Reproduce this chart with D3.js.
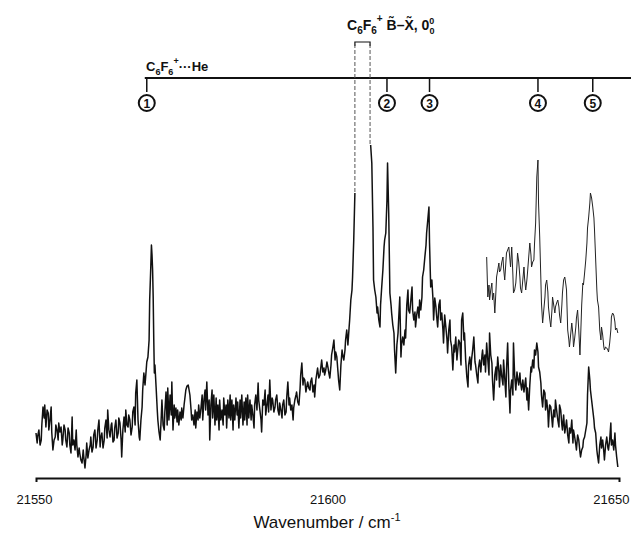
<!DOCTYPE html>
<html>
<head>
<meta charset="utf-8">
<script src="https://cdn.jsdelivr.net/npm/d3@7/dist/d3.min.js"></script>
<style>
  body { margin: 0; background: #fff; }
  svg text { font-family: "Liberation Sans", Arial, sans-serif; fill: #111; }
</style>
</head>
<body>
<div id="chart"></div>
<script>
// spectrum: [wavenumber / cm-1, intensity (arb. units)]
// the C6F6+ origin doublet is off scale, so the trace has a gap there
var mainTrace = [
  [21550.0,45],[21550.2,35],[21550.3,42],[21550.5,48],[21550.7,33],[21550.9,38],[21551.0,53],[21551.2,71],[21551.4,60],[21551.5,73],
  [21551.7,51],[21551.9,68],[21552.1,65],[21552.2,48],[21552.4,58],[21552.6,71],[21552.7,46],[21552.9,28],[21553.1,38],[21553.3,41],
  [21553.4,53],[21553.6,48],[21553.8,38],[21553.9,55],[21554.1,46],[21554.3,51],[21554.5,33],[21554.6,38],[21554.8,53],[21555.0,48],
  [21555.1,38],[21555.3,31],[21555.5,50],[21555.7,45],[21555.8,33],
  [21556.0,25],[21556.2,61],[21556.3,33],[21556.5,38],[21556.7,28],[21556.9,48],[21557.0,33],[21557.2,21],[21557.4,30],[21557.5,25],
  [21557.7,18],[21557.9,15],[21558.1,28],[21558.2,21],[21558.4,10],[21558.6,23],[21558.7,35],[21558.9,20],[21559.1,28],[21559.3,33],
  [21559.4,41],[21559.6,26],[21559.8,31],[21559.9,43],[21560.1,48],[21560.3,30],[21560.5,38],[21560.6,48],[21560.8,58],[21561.0,31],
  [21561.1,40],[21561.3,45],[21561.5,30],[21561.7,38],[21561.8,50],
  [21562.0,58],[21562.2,40],[21562.3,68],[21562.5,48],[21562.7,41],[21562.9,53],[21563.0,55],[21563.2,36],[21563.4,38],[21563.5,50],
  [21563.7,58],[21563.9,40],[21564.1,45],[21564.2,60],[21564.4,55],[21564.6,38],[21564.7,21],[21564.9,48],[21565.1,61],[21565.3,46],
  [21565.4,68],[21565.6,53],[21565.8,51],[21565.9,63],[21566.1,58],[21566.3,43],[21566.5,51],[21566.6,66],[21566.8,71],[21567.0,53],
  [21567.1,85],[21567.3,98],[21567.5,58],[21567.7,41],[21567.8,38],
  [21568.0,58],[21568.2,71],[21568.3,88],[21568.5,105],[21568.7,93],[21568.9,108],[21569.0,116],[21569.2,121],[21569.4,138],[21569.5,178],
  [21569.7,213],[21569.8,233],[21569.9,223],[21570.0,208],[21570.1,181],[21570.2,138],[21570.3,105],[21570.4,113],[21570.6,91],[21570.8,68],
  [21570.9,58],[21571.1,46],[21571.3,38],[21571.5,63],[21571.6,78],[21571.8,53],[21572.0,48],[21572.1,66],[21572.3,86],[21572.5,53],
  [21572.6,90],[21572.8,58],[21573.0,83],[21573.2,63],[21573.3,96],[21573.5,48],[21573.7,73],[21573.8,60],
  [21574.0,70],[21574.2,56],[21574.3,68],[21574.5,53],[21574.7,66],[21574.9,58],[21575.0,70],[21575.2,60],[21575.4,73],[21575.5,78],
  [21575.7,88],[21575.9,92],[21576.1,93],[21576.2,90],[21576.4,83],[21576.6,68],[21576.7,58],[21576.9,63],[21577.1,53],[21577.3,68],
  [21577.4,50],[21577.6,66],[21577.8,58],[21577.9,73],[21578.1,60],[21578.3,70],[21578.5,83],[21578.6,58],[21578.8,78],[21579.0,88],
  [21579.1,68],[21579.3,96],[21579.5,63],[21579.7,78],[21579.8,38],
  [21580.0,73],[21580.2,88],[21580.3,60],[21580.5,83],[21580.7,53],[21580.9,80],[21581.0,58],[21581.2,73],[21581.4,48],[21581.5,78],
  [21581.7,58],[21581.9,68],[21582.1,53],[21582.2,80],[21582.4,63],[21582.6,73],[21582.7,50],[21582.9,78],[21583.1,60],[21583.3,83],
  [21583.4,58],[21583.6,78],[21583.8,48],[21583.9,73],[21584.1,58],[21584.3,80],[21584.5,63],[21584.6,76],[21584.8,50],[21585.0,78],
  [21585.1,60],[21585.3,83],[21585.5,53],[21585.7,76],[21585.8,58],
  [21586.0,80],[21586.2,53],[21586.3,83],[21586.5,60],[21586.7,78],[21586.9,58],[21587.0,73],[21587.2,63],[21587.4,50],[21587.5,73],
  [21587.7,83],[21587.9,68],[21588.1,95],[21588.2,78],[21588.4,68],[21588.6,58],[21588.7,46],[21588.9,78],[21589.1,73],[21589.3,88],
  [21589.4,63],[21589.6,73],[21589.8,83],[21589.9,66],[21590.1,98],[21590.3,68],[21590.5,80],[21590.6,78],[21590.8,66],[21591.0,71],
  [21591.1,78],[21591.3,83],[21591.5,68],[21591.7,63],[21591.8,75],
  [21592.0,68],[21592.2,60],[21592.3,73],[21592.5,78],[21592.7,63],[21592.9,66],[21593.0,80],[21593.2,96],[21593.4,73],[21593.5,80],
  [21593.7,68],[21593.9,73],[21594.1,58],[21594.2,70],[21594.4,78],[21594.6,83],[21594.7,86],[21594.9,76],[21595.1,73],[21595.3,90],
  [21595.4,103],[21595.6,115],[21595.8,93],[21595.9,100],[21596.1,98],[21596.3,86],[21596.5,93],[21596.6,96],[21596.8,90],[21597.0,88],
  [21597.1,96],[21597.3,100],[21597.5,86],[21597.7,93],[21597.8,81],
  [21598.0,98],[21598.2,106],[21598.3,110],[21598.5,100],[21598.7,103],[21598.9,113],[21599.0,118],[21599.2,106],[21599.4,110],[21599.5,103],
  [21599.7,108],[21599.9,116],[21600.1,110],[21600.2,106],[21600.4,100],[21600.6,113],[21600.7,123],[21600.9,130],[21601.1,138],[21601.3,118],
  [21601.4,126],[21601.6,121],[21601.8,106],[21601.9,98],[21602.1,88],[21602.3,113],[21602.5,128],[21602.6,123],[21602.8,118],[21603.0,128],
  [21603.1,138],[21603.3,148],[21603.5,133],[21603.7,150],[21603.8,158],
  [21604.0,178],[21604.2,188],[21604.3,201],[21604.5,238],[21604.7,285],
  [21606.0,null],
  [21607.4,333],[21607.6,315],[21607.8,251],[21607.9,198],[21608.1,188],[21608.3,181],[21608.5,165],[21608.6,171],[21608.8,158],[21609.0,151],
  [21609.1,173],[21609.3,191],[21609.5,208],[21609.7,231],[21609.8,238],
  [21610.0,245],[21610.2,278],[21610.3,315],[21610.5,265],[21610.7,185],[21610.9,173],[21611.0,165],[21611.2,153],[21611.4,145],[21611.5,128],
  [21611.7,105],[21611.9,133],[21612.1,145],[21612.2,158],[21612.4,181],[21612.6,121],[21612.7,133],[21612.9,141],[21613.1,133],[21613.3,148],
  [21613.4,140],[21613.6,173],[21613.8,188],[21613.9,168],[21614.1,165],[21614.3,178],[21614.5,191],[21614.6,168],[21614.8,158],[21615.0,166],
  [21615.1,151],[21615.3,163],[21615.5,171],[21615.7,160],[21615.8,178],
  [21616.0,168],[21616.2,181],[21616.3,201],[21616.5,208],[21616.7,221],[21616.9,233],[21617.0,245],[21617.2,258],[21617.4,271],[21617.5,235],
  [21617.7,191],[21617.9,198],[21618.1,178],[21618.2,158],[21618.4,180],[21618.6,171],[21618.7,163],[21618.9,151],[21619.1,173],[21619.3,178],
  [21619.4,158],[21619.6,165],[21619.8,148],[21619.9,135],[21620.1,163],[21620.3,151],[21620.5,138],[21620.6,125],[21620.8,148],[21621.0,158],
  [21621.1,138],[21621.3,131],[21621.5,108],[21621.7,133],[21621.8,126],
  [21622.0,141],[21622.2,118],[21622.3,125],[21622.5,138],[21622.7,135],[21622.9,113],[21623.0,158],[21623.2,165],[21623.4,138],[21623.5,145],
  [21623.7,118],[21623.9,101],[21624.1,91],[21624.2,113],[21624.4,121],[21624.6,108],[21624.7,118],[21624.9,128],[21625.1,141],[21625.3,116],
  [21625.4,113],[21625.6,103],[21625.8,95],[21625.9,110],[21626.1,118],[21626.3,106],[21626.5,123],[21626.6,128],[21626.8,113],[21627.0,123],
  [21627.1,106],[21627.3,135],[21627.5,118],[21627.7,103],[21627.8,145],
  [21628.0,123],[21628.2,115],[21628.3,98],[21628.5,78],[21628.7,103],[21628.9,111],[21629.0,98],[21629.2,121],[21629.4,106],[21629.5,91],
  [21629.7,113],[21629.9,101],[21630.1,93],[21630.2,118],[21630.4,100],[21630.6,81],[21630.7,108],[21630.9,135],[21631.1,93],[21631.3,65],
  [21631.4,88],[21631.6,98],[21631.8,83],[21631.9,135],[21632.1,103],[21632.3,88],[21632.5,106],[21632.6,101],[21632.8,93],[21633.0,105],
  [21633.1,96],[21633.3,88],[21633.5,98],[21633.7,86],[21633.8,91],
  [21634.0,100],[21634.2,78],[21634.3,90],[21634.5,68],[21634.7,93],[21634.9,111],[21635.0,106],[21635.2,118],[21635.4,110],[21635.5,128],
  [21635.7,123],[21635.9,135],[21636.1,126],[21636.2,111],[21636.4,106],[21636.6,95],[21636.7,83],[21636.9,71],[21637.1,88],[21637.3,85],
  [21637.4,68],[21637.6,78],[21637.8,66],[21637.9,51],[21638.1,73],[21638.3,71],[21638.5,58],[21638.6,51],[21638.8,68],[21639.0,61],
  [21639.1,78],[21639.3,68],[21639.5,58],[21639.7,51],[21639.8,73],
  [21640.0,68],[21640.2,53],[21640.3,48],[21640.5,63],[21640.7,45],[21640.9,53],[21641.0,58],[21641.2,43],[21641.4,35],[21641.5,50],
  [21641.7,45],[21641.9,58],[21642.1,35],[21642.2,48],[21642.4,41],[21642.6,33],[21642.7,28],[21642.9,43],[21643.1,38],[21643.3,26],
  [21643.4,21],[21643.6,28],[21643.8,31],[21643.9,38],[21644.1,41],[21644.3,48],[21644.5,55],[21644.6,83],[21644.8,111],[21645.0,98],
  [21645.1,88],[21645.3,78],[21645.5,68],[21645.7,58],[21645.8,50],
  [21646.0,45],[21646.2,28],[21646.3,23],[21646.5,15],[21646.7,33],[21646.9,41],[21647.0,30],[21647.2,38],[21647.4,26],[21647.5,18],
  [21647.7,33],[21647.9,41],[21648.1,30],[21648.2,28],[21648.4,38],[21648.6,55],[21648.7,33],[21648.9,38],[21649.1,28],[21649.3,45],
  [21649.4,33],[21649.6,21],[21649.8,11]
];

// expanded-scale scan of the 4 and 5 region, drawn above the main trace
var insetTrace = [
  [21627.3,221],[21627.5,181],[21627.7,193],[21627.8,178],[21628.0,188],[21628.2,195],[21628.3,178],[21628.5,185],[21628.7,165],[21628.9,188],
  [21629.0,201],[21629.2,208],[21629.4,215],[21629.5,206],[21629.7,208],[21629.9,216],[21630.1,221],[21630.2,210],[21630.4,198],[21630.6,216],
  [21630.7,225],[21630.9,228],[21631.1,231],[21631.3,218],[21631.4,211],[21631.6,231],[21631.8,203],[21631.9,185],[21632.1,188],[21632.3,195],
  [21632.5,213],[21632.6,225],[21632.8,216],[21633.0,201],[21633.1,190],[21633.3,185],[21633.5,198],[21633.7,211],[21633.8,200],[21634.0,188],
  [21634.2,198],[21634.3,205],[21634.5,220],[21634.7,235],[21634.9,223],[21635.0,211],[21635.2,216],[21635.4,218],[21635.5,233],[21635.7,255],
  [21635.9,301],[21636.1,318],[21636.2,275],[21636.4,241],[21636.6,198],[21636.7,175],[21636.9,155],[21637.1,168],[21637.3,181],[21637.4,193],
  [21637.6,198],[21637.8,186],[21637.9,171],[21638.1,160],[21638.3,151],[21638.5,168],[21638.6,181],[21638.8,173],[21639.0,165],[21639.1,171],
  [21639.3,175],[21639.5,178],[21639.7,171],[21639.8,163],[21640.0,155],[21640.2,173],[21640.3,185],[21640.5,198],[21640.7,201],[21640.9,193],
  [21641.0,188],[21641.2,148],[21641.4,138],[21641.5,131],[21641.7,143],[21641.9,155],[21642.1,143],[21642.2,131],[21642.4,140],[21642.6,151],
  [21642.7,160],[21642.9,168],[21643.1,148],[21643.3,123],[21643.4,138],[21643.6,173],[21643.8,195],[21643.9,193],[21644.1,205],[21644.3,218],
  [21644.5,235],[21644.6,250],[21644.8,261],[21645.0,275],[21645.1,285],[21645.3,280],[21645.5,271],[21645.7,260],[21645.8,248],[21646.0,218],
  [21646.2,188],[21646.3,178],[21646.5,171],[21646.7,148],[21646.9,138],[21647.0,151],[21647.2,143],[21647.4,131],[21647.5,128],[21647.7,131],
  [21647.9,130],[21648.1,128],[21648.2,126],[21648.4,135],[21648.6,148],[21648.7,161],[21648.9,165],[21649.1,163],[21649.3,156],[21649.4,148],
  [21649.6,150],[21649.8,145]
];

var markerLabels = ["1", "2", "3", "4", "5"];
var markerPositions = [21569.0, 21610.2, 21617.5, 21636.1, 21645.5];
var originPeaks = [21604.7, 21607.3];
var originTops = [285, 333];
var xTicks = [21550, 21600, 21650];

var width = 631, height = 534;
var margin = {top: 78, right: 12, bottom: 56, left: 36};

var svg = d3.select("#chart")
  .append("svg")
    .attr("width", width)
    .attr("height", height);

var x = d3.scaleLinear()
  .domain([21550, 21650])
  .range([margin.left, width - margin.right]);

var y = d3.scaleLinear()
  .domain([0, 400])
  .range([height - margin.bottom, margin.top]);

// X axis
var xAxis = svg.append("g")
  .attr("transform", "translate(0," + (height - margin.bottom) + ")")
  .call(d3.axisBottom(x)
    .tickValues(xTicks)
    .tickFormat(d3.format("d"))
    .tickSize(0)
    .tickSizeOuter(4)
    .tickPadding(17));
xAxis.select(".domain").attr("stroke", "#111").attr("stroke-width", 2);
xAxis.selectAll(".tick text")
  .attr("font-family", "Liberation Sans, Arial, sans-serif")
  .attr("font-size", 13)
  .attr("fill", "#111")
  .attr("text-anchor", function(d) { return d == 21650 ? "end" : "middle"; })
  .attr("dx", function(d) { return d == 21650 ? 10 : (d == 21550 ? -2 : 0); });

var title = svg.append("text")
  .attr("x", 327)
  .attr("y", 528)
  .attr("text-anchor", "middle")
  .attr("font-size", 17);
title.append("tspan").text("Wavenumber / cm");
title.append("tspan").attr("dy", -7).attr("font-size", 11).text("-1");

// traces
var line = d3.line()
  .defined(function(d) { return d[1] != null; })
  .x(function(d) { return x(d[0]); })
  .y(function(d) { return y(d[1]); });

svg.append("path")
  .datum(mainTrace)
  .attr("fill", "none")
  .attr("stroke", "#111")
  .attr("stroke-width", 1.5)
  .attr("stroke-linejoin", "round")
  .attr("d", line);

svg.append("path")
  .datum(insetTrace)
  .attr("fill", "none")
  .attr("stroke", "#222")
  .attr("stroke-width", 1)
  .attr("stroke-linejoin", "round")
  .attr("d", line);

// assignment bar with numbered markers
svg.append("line")
  .attr("x1", x(markerPositions[0]) - 2)
  .attr("x2", width)
  .attr("y1", y(400))
  .attr("y2", y(400))
  .attr("stroke", "#111")
  .attr("stroke-width", 2);

var marks = svg.selectAll(".marker")
  .data(markerPositions)
  .enter()
  .append("g")
    .attr("class", "marker")
    .attr("transform", function(d) { return "translate(" + x(d) + ",0)"; });

marks.append("line")
  .attr("y1", y(400))
  .attr("y2", y(386))
  .attr("stroke", "#111")
  .attr("stroke-width", 1.5);

marks.append("circle")
  .attr("cy", y(375))
  .attr("r", 8)
  .attr("fill", "none")
  .attr("stroke", "#111")
  .attr("stroke-width", 2);

marks.append("text")
  .attr("y", y(375) + 4.5)
  .attr("text-anchor", "middle")
  .attr("font-size", 12)
  .attr("font-weight", "bold")
  .text(function(d, i) { return markerLabels[i]; });

// origin doublet: bracket and dashed extensions of the off-scale peaks
svg.append("path")
  .attr("d", "M" + x(originPeaks[0]) + ",46V42H" + x(originPeaks[1]) + "V46")
  .attr("fill", "none")
  .attr("stroke", "#111")
  .attr("stroke-width", 1.2);

svg.selectAll(".origin")
  .data(originPeaks)
  .enter()
  .append("line")
    .attr("class", "origin")
    .attr("x1", function(d) { return x(d); })
    .attr("x2", function(d) { return x(d); })
    .attr("y1", 44)
    .attr("y2", function(d, i) { return y(originTops[i]); })
    .attr("stroke", "#555")
    .attr("stroke-width", 1)
    .attr("stroke-dasharray", "4,2");

// labels
var heLabel = svg.append("text")
  .attr("x", 146)
  .attr("y", 71)
  .attr("font-size", 13)
  .attr("font-weight", "bold");
heLabel.append("tspan").text("C");
heLabel.append("tspan").attr("dy", 4).attr("font-size", 9).text("6");
heLabel.append("tspan").attr("dy", -4).text("F");
heLabel.append("tspan").attr("dy", 4).attr("font-size", 9).text("6");
heLabel.append("tspan").attr("dy", -11).attr("font-size", 9).text("+");
heLabel.append("tspan").attr("dy", 7).text("\u00b7\u00b7\u00b7He");

var originLabel = svg.append("text")
  .attr("x", 347)
  .attr("y", 30)
  .attr("font-size", 14)
  .attr("font-weight", "bold");
originLabel.append("tspan").text("C");
originLabel.append("tspan").attr("dy", 4).attr("font-size", 10).text("6");
originLabel.append("tspan").attr("dy", -4).text("F");
originLabel.append("tspan").attr("dy", 4).attr("font-size", 10).text("6");
originLabel.append("tspan").attr("dy", -12).attr("font-size", 10).text("+");
originLabel.append("tspan").attr("dy", 8).text(" B\u0303\u2013X\u0303, 0");
originLabel.append("tspan").attr("dy", -6).attr("font-size", 9).text("0");
originLabel.append("tspan").attr("dx", -5).attr("dy", 10).attr("font-size", 9).text("0");
</script>
</body>
</html>
